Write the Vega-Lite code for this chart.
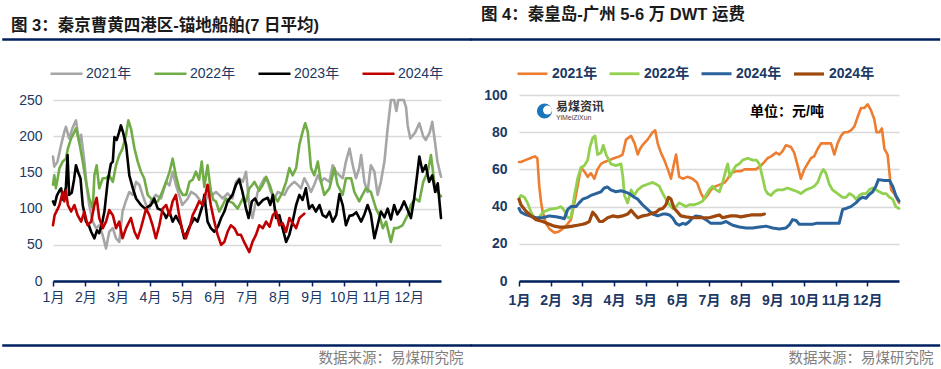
{
  "$schema": "https://vega.github.io/schema/vega-lite/v6.json",
  "background": "white",
  "padding": {"left": 0, "top": 7, "right": 0, "bottom": 0},
  "autosize": {"type": "pad"},
  "bounds": "flush",
  "spacing": 78,
  "config": {
    "view": {"stroke": null},
    "font": "Liberation Sans, Noto Sans CJK SC",
    "axisX": {"grid": false, "domainColor": "#002060", "domainWidth": 2.5, "tickColor": "#002060", "tickSize": 5, "tickWidth": 1.5, "labelColor": "#203864", "labelFontSize": 14, "labelFont": "Liberation Sans, Noto Sans CJK SC", "labelOverlap": false, "labelFlush": false, "labelBound": false, "titleY": 77, "titleAlign": "right", "titleBaseline": "middle", "titleColor": "#7f7f7f", "titleFontWeight": "normal", "titleFontSize": 14.5, "titleFont": "Noto Sans CJK SC"},
    "axisY": {"domain": false, "ticks": false, "grid": true, "gridColor": "#d9d9d9", "gridWidth": 1.5, "labelColor": "#203864", "labelFontSize": 14, "labelFont": "Liberation Sans", "labelOverlap": false}
  },
  "resolve": {"scale": {"color": "independent", "strokeWidth": "independent"}, "legend": {"color": "independent"}},
  "datasets": {
    "left": [
      {"s":"2021年","m":0,"v":172},{"s":"2021年","m":0.04,"v":158},{"s":"2021年","m":0.14,"v":165},{"s":"2021年","m":0.25,"v":188},{"s":"2021年","m":0.35,"v":206},{"s":"2021年","m":0.4,"v":213},{"s":"2021年","m":0.5,"v":197},{"s":"2021年","m":0.6,"v":211},{"s":"2021年","m":0.71,"v":222},{"s":"2021年","m":0.81,"v":192},{"s":"2021年","m":0.87,"v":202},{"s":"2021年","m":0.97,"v":165},{"s":"2021年","m":1.05,"v":128},{"s":"2021年","m":1.12,"v":105},{"s":"2021年","m":1.23,"v":82},{"s":"2021年","m":1.33,"v":73},{"s":"2021年","m":1.43,"v":77},{"s":"2021年","m":1.53,"v":64},{"s":"2021年","m":1.64,"v":45},{"s":"2021年","m":1.74,"v":68},{"s":"2021年","m":1.85,"v":73},{"s":"2021年","m":1.95,"v":59},{"s":"2021年","m":2.05,"v":54},{"s":"2021年","m":2.15,"v":96},{"s":"2021年","m":2.25,"v":110},{"s":"2021年","m":2.36,"v":123},{"s":"2021年","m":2.47,"v":119},{"s":"2021年","m":2.57,"v":137},{"s":"2021年","m":2.67,"v":133},{"s":"2021年","m":2.77,"v":119},{"s":"2021年","m":2.88,"v":105},{"s":"2021年","m":2.98,"v":100},{"s":"2021年","m":3.03,"v":110},{"s":"2021年","m":3.18,"v":119},{"s":"2021年","m":3.34,"v":114},{"s":"2021年","m":3.5,"v":137},{"s":"2021年","m":3.6,"v":132},{"s":"2021年","m":3.7,"v":151},{"s":"2021年","m":3.8,"v":133},{"s":"2021年","m":3.9,"v":119},{"s":"2021年","m":4.0,"v":105},{"s":"2021年","m":4.17,"v":114},{"s":"2021年","m":4.27,"v":123},{"s":"2021年","m":4.42,"v":119},{"s":"2021年","m":4.57,"v":110},{"s":"2021年","m":4.68,"v":105},{"s":"2021年","m":4.78,"v":119},{"s":"2021年","m":4.93,"v":119},{"s":"2021年","m":5.04,"v":123},{"s":"2021年","m":5.14,"v":119},{"s":"2021年","m":5.25,"v":114},{"s":"2021年","m":5.4,"v":121},{"s":"2021年","m":5.55,"v":114},{"s":"2021年","m":5.66,"v":137},{"s":"2021年","m":5.76,"v":142},{"s":"2021年","m":5.87,"v":137},{"s":"2021年","m":5.97,"v":151},{"s":"2021年","m":6.07,"v":105},{"s":"2021年","m":6.17,"v":87},{"s":"2021年","m":6.33,"v":123},{"s":"2021年","m":6.43,"v":133},{"s":"2021年","m":6.54,"v":142},{"s":"2021年","m":6.64,"v":137},{"s":"2021年","m":6.74,"v":123},{"s":"2021年","m":6.85,"v":114},{"s":"2021年","m":6.95,"v":123},{"s":"2021年","m":7.05,"v":121},{"s":"2021年","m":7.16,"v":119},{"s":"2021年","m":7.26,"v":128},{"s":"2021年","m":7.36,"v":133},{"s":"2021年","m":7.46,"v":137},{"s":"2021年","m":7.57,"v":133},{"s":"2021年","m":7.67,"v":128},{"s":"2021年","m":7.77,"v":142},{"s":"2021年","m":7.88,"v":133},{"s":"2021年","m":7.98,"v":123},{"s":"2021年","m":8.08,"v":133},{"s":"2021年","m":8.19,"v":146},{"s":"2021年","m":8.29,"v":137},{"s":"2021年","m":8.39,"v":142},{"s":"2021年","m":8.55,"v":137},{"s":"2021年","m":8.65,"v":160},{"s":"2021年","m":8.75,"v":151},{"s":"2021年","m":8.86,"v":146},{"s":"2021年","m":8.96,"v":142},{"s":"2021年","m":9.06,"v":165},{"s":"2021年","m":9.17,"v":183},{"s":"2021年","m":9.27,"v":160},{"s":"2021年","m":9.37,"v":142},{"s":"2021年","m":9.47,"v":156},{"s":"2021年","m":9.53,"v":174},{"s":"2021年","m":9.63,"v":137},{"s":"2021年","m":9.73,"v":123},{"s":"2021年","m":9.83,"v":160},{"s":"2021年","m":9.94,"v":151},{"s":"2021年","m":10.04,"v":119},{"s":"2021年","m":10.14,"v":137},{"s":"2021年","m":10.25,"v":165},{"s":"2021年","m":10.35,"v":211},{"s":"2021年","m":10.45,"v":250},{"s":"2021年","m":10.55,"v":250},{"s":"2021年","m":10.62,"v":235},{"s":"2021年","m":10.68,"v":250},{"s":"2021年","m":10.85,"v":250},{"s":"2021年","m":10.92,"v":240},{"s":"2021年","m":10.97,"v":215},{"s":"2021年","m":11.05,"v":197},{"s":"2021年","m":11.2,"v":205},{"s":"2021年","m":11.33,"v":218},{"s":"2021年","m":11.45,"v":200},{"s":"2021年","m":11.53,"v":195},{"s":"2021年","m":11.65,"v":205},{"s":"2021年","m":11.73,"v":220},{"s":"2021年","m":11.82,"v":190},{"s":"2021年","m":11.89,"v":165},{"s":"2021年","m":12,"v":144},

      {"s":"2022年","m":0,"v":133},{"s":"2022年","m":0.04,"v":146},{"s":"2022年","m":0.09,"v":128},{"s":"2022年","m":0.2,"v":156},{"s":"2022年","m":0.3,"v":165},{"s":"2022年","m":0.4,"v":169},{"s":"2022年","m":0.46,"v":183},{"s":"2022年","m":0.56,"v":197},{"s":"2022年","m":0.66,"v":206},{"s":"2022年","m":0.71,"v":211},{"s":"2022年","m":0.81,"v":192},{"s":"2022年","m":0.92,"v":165},{"s":"2022年","m":1.02,"v":137},{"s":"2022年","m":1.12,"v":114},{"s":"2022年","m":1.23,"v":100},{"s":"2022年","m":1.28,"v":146},{"s":"2022年","m":1.35,"v":160},{"s":"2022年","m":1.43,"v":128},{"s":"2022年","m":1.54,"v":142},{"s":"2022年","m":1.64,"v":142},{"s":"2022年","m":1.74,"v":146},{"s":"2022年","m":1.85,"v":137},{"s":"2022年","m":1.95,"v":160},{"s":"2022年","m":2.05,"v":174},{"s":"2022年","m":2.15,"v":183},{"s":"2022年","m":2.26,"v":202},{"s":"2022年","m":2.33,"v":222},{"s":"2022年","m":2.41,"v":211},{"s":"2022年","m":2.52,"v":183},{"s":"2022年","m":2.62,"v":165},{"s":"2022年","m":2.72,"v":151},{"s":"2022年","m":2.82,"v":142},{"s":"2022年","m":2.93,"v":119},{"s":"2022年","m":3.03,"v":114},{"s":"2022年","m":3.13,"v":108},{"s":"2022年","m":3.24,"v":110},{"s":"2022年","m":3.34,"v":119},{"s":"2022年","m":3.5,"v":137},{"s":"2022年","m":3.6,"v":150},{"s":"2022年","m":3.7,"v":169},{"s":"2022年","m":3.8,"v":146},{"s":"2022年","m":3.9,"v":128},{"s":"2022年","m":4.01,"v":119},{"s":"2022年","m":4.12,"v":119},{"s":"2022年","m":4.22,"v":137},{"s":"2022年","m":4.32,"v":140},{"s":"2022年","m":4.42,"v":151},{"s":"2022年","m":4.52,"v":140},{"s":"2022年","m":4.6,"v":165},{"s":"2022年","m":4.68,"v":130},{"s":"2022年","m":4.78,"v":160},{"s":"2022年","m":4.88,"v":125},{"s":"2022年","m":4.96,"v":112},{"s":"2022年","m":5.04,"v":110},{"s":"2022年","m":5.14,"v":96},{"s":"2022年","m":5.25,"v":105},{"s":"2022年","m":5.35,"v":114},{"s":"2022年","m":5.45,"v":110},{"s":"2022年","m":5.56,"v":108},{"s":"2022年","m":5.71,"v":100},{"s":"2022年","m":5.87,"v":114},{"s":"2022年","m":5.97,"v":110},{"s":"2022年","m":6.07,"v":128},{"s":"2022年","m":6.17,"v":133},{"s":"2022年","m":6.23,"v":137},{"s":"2022年","m":6.38,"v":125},{"s":"2022年","m":6.49,"v":133},{"s":"2022年","m":6.59,"v":144},{"s":"2022年","m":6.7,"v":133},{"s":"2022年","m":6.8,"v":119},{"s":"2022年","m":6.95,"v":110},{"s":"2022年","m":7.1,"v":123},{"s":"2022年","m":7.21,"v":137},{"s":"2022年","m":7.31,"v":156},{"s":"2022年","m":7.41,"v":146},{"s":"2022年","m":7.52,"v":156},{"s":"2022年","m":7.62,"v":188},{"s":"2022年","m":7.72,"v":206},{"s":"2022年","m":7.8,"v":218},{"s":"2022年","m":7.88,"v":206},{"s":"2022年","m":7.98,"v":156},{"s":"2022年","m":8.08,"v":146},{"s":"2022年","m":8.19,"v":165},{"s":"2022年","m":8.29,"v":137},{"s":"2022年","m":8.39,"v":119},{"s":"2022年","m":8.55,"v":128},{"s":"2022年","m":8.7,"v":156},{"s":"2022年","m":8.8,"v":133},{"s":"2022年","m":8.96,"v":119},{"s":"2022年","m":9.06,"v":142},{"s":"2022年","m":9.22,"v":142},{"s":"2022年","m":9.32,"v":123},{"s":"2022年","m":9.47,"v":110},{"s":"2022年","m":9.57,"v":119},{"s":"2022年","m":9.68,"v":128},{"s":"2022年","m":9.83,"v":123},{"s":"2022年","m":9.99,"v":100},{"s":"2022年","m":10.09,"v":91},{"s":"2022年","m":10.2,"v":73},{"s":"2022年","m":10.3,"v":82},{"s":"2022年","m":10.45,"v":54},{"s":"2022年","m":10.55,"v":73},{"s":"2022年","m":10.65,"v":73},{"s":"2022年","m":10.81,"v":77},{"s":"2022年","m":10.97,"v":91},{"s":"2022年","m":11.07,"v":105},{"s":"2022年","m":11.2,"v":114},{"s":"2022年","m":11.33,"v":110},{"s":"2022年","m":11.45,"v":137},{"s":"2022年","m":11.59,"v":151},{"s":"2022年","m":11.69,"v":174},{"s":"2022年","m":11.79,"v":137},{"s":"2022年","m":11.89,"v":123},{"s":"2022年","m":12,"v":117},

      {"s":"2023年","m":0,"v":110},{"s":"2023年","m":0.05,"v":105},{"s":"2023年","m":0.12,"v":118},{"s":"2023年","m":0.2,"v":125},{"s":"2023年","m":0.25,"v":128},{"s":"2023年","m":0.32,"v":112},{"s":"2023年","m":0.4,"v":130},{"s":"2023年","m":0.45,"v":174},{"s":"2023年","m":0.5,"v":119},{"s":"2023年","m":0.58,"v":122},{"s":"2023年","m":0.65,"v":140},{"s":"2023年","m":0.71,"v":160},{"s":"2023年","m":0.78,"v":150},{"s":"2023年","m":0.85,"v":142},{"s":"2023年","m":0.92,"v":105},{"s":"2023年","m":1.02,"v":82},{"s":"2023年","m":1.1,"v":78},{"s":"2023年","m":1.18,"v":68},{"s":"2023年","m":1.28,"v":59},{"s":"2023年","m":1.36,"v":70},{"s":"2023年","m":1.43,"v":66},{"s":"2023年","m":1.52,"v":80},{"s":"2023年","m":1.59,"v":96},{"s":"2023年","m":1.69,"v":137},{"s":"2023年","m":1.79,"v":162},{"s":"2023年","m":1.85,"v":165},{"s":"2023年","m":1.9,"v":199},{"s":"2023年","m":1.97,"v":195},{"s":"2023年","m":2.04,"v":205},{"s":"2023年","m":2.1,"v":215},{"s":"2023年","m":2.17,"v":205},{"s":"2023年","m":2.26,"v":188},{"s":"2023年","m":2.36,"v":146},{"s":"2023年","m":2.47,"v":128},{"s":"2023年","m":2.57,"v":114},{"s":"2023年","m":2.72,"v":105},{"s":"2023年","m":2.85,"v":100},{"s":"2023年","m":2.95,"v":103},{"s":"2023年","m":3.03,"v":105},{"s":"2023年","m":3.13,"v":114},{"s":"2023年","m":3.24,"v":100},{"s":"2023年","m":3.35,"v":98},{"s":"2023年","m":3.45,"v":92},{"s":"2023年","m":3.5,"v":87},{"s":"2023年","m":3.6,"v":96},{"s":"2023年","m":3.7,"v":82},{"s":"2023年","m":3.8,"v":90},{"s":"2023年","m":3.96,"v":77},{"s":"2023年","m":4.06,"v":59},{"s":"2023年","m":4.2,"v":73},{"s":"2023年","m":4.37,"v":87},{"s":"2023年","m":4.47,"v":82},{"s":"2023年","m":4.63,"v":105},{"s":"2023年","m":4.68,"v":119},{"s":"2023年","m":4.78,"v":82},{"s":"2023年","m":4.88,"v":73},{"s":"2023年","m":4.99,"v":68},{"s":"2023年","m":5.1,"v":75},{"s":"2023年","m":5.2,"v":87},{"s":"2023年","m":5.3,"v":96},{"s":"2023年","m":5.4,"v":110},{"s":"2023年","m":5.55,"v":119},{"s":"2023年","m":5.66,"v":133},{"s":"2023年","m":5.76,"v":140},{"s":"2023年","m":5.86,"v":123},{"s":"2023年","m":5.97,"v":100},{"s":"2023年","m":6.05,"v":87},{"s":"2023年","m":6.15,"v":110},{"s":"2023年","m":6.25,"v":114},{"s":"2023年","m":6.35,"v":105},{"s":"2023年","m":6.5,"v":112},{"s":"2023年","m":6.64,"v":115},{"s":"2023年","m":6.72,"v":105},{"s":"2023年","m":6.8,"v":119},{"s":"2023年","m":6.9,"v":87},{"s":"2023年","m":7.0,"v":91},{"s":"2023年","m":7.1,"v":73},{"s":"2023年","m":7.21,"v":54},{"s":"2023年","m":7.31,"v":64},{"s":"2023年","m":7.41,"v":82},{"s":"2023年","m":7.52,"v":105},{"s":"2023年","m":7.62,"v":119},{"s":"2023年","m":7.72,"v":112},{"s":"2023年","m":7.82,"v":128},{"s":"2023年","m":7.92,"v":100},{"s":"2023年","m":8.02,"v":105},{"s":"2023年","m":8.13,"v":96},{"s":"2023年","m":8.24,"v":105},{"s":"2023年","m":8.34,"v":91},{"s":"2023年","m":8.45,"v":88},{"s":"2023年","m":8.55,"v":96},{"s":"2023年","m":8.65,"v":82},{"s":"2023年","m":8.76,"v":91},{"s":"2023年","m":8.86,"v":120},{"s":"2023年","m":8.96,"v":105},{"s":"2023年","m":9.06,"v":77},{"s":"2023年","m":9.17,"v":90},{"s":"2023年","m":9.27,"v":91},{"s":"2023年","m":9.38,"v":95},{"s":"2023年","m":9.53,"v":82},{"s":"2023年","m":9.63,"v":92},{"s":"2023年","m":9.73,"v":105},{"s":"2023年","m":9.83,"v":92},{"s":"2023年","m":9.94,"v":59},{"s":"2023年","m":10.04,"v":77},{"s":"2023年","m":10.14,"v":96},{"s":"2023年","m":10.25,"v":88},{"s":"2023年","m":10.35,"v":100},{"s":"2023年","m":10.45,"v":85},{"s":"2023年","m":10.55,"v":105},{"s":"2023年","m":10.65,"v":92},{"s":"2023年","m":10.76,"v":100},{"s":"2023年","m":10.86,"v":110},{"s":"2023年","m":10.97,"v":98},{"s":"2023年","m":11.07,"v":87},{"s":"2023年","m":11.17,"v":114},{"s":"2023年","m":11.25,"v":142},{"s":"2023年","m":11.33,"v":172},{"s":"2023年","m":11.43,"v":151},{"s":"2023年","m":11.53,"v":160},{"s":"2023年","m":11.63,"v":137},{"s":"2023年","m":11.73,"v":146},{"s":"2023年","m":11.82,"v":123},{"s":"2023年","m":11.9,"v":135},{"s":"2023年","m":12,"v":87},

      {"s":"2024年","m":0,"v":77},{"s":"2024年","m":0.05,"v":91},{"s":"2024年","m":0.15,"v":100},{"s":"2024年","m":0.2,"v":105},{"s":"2024年","m":0.3,"v":123},{"s":"2024年","m":0.35,"v":110},{"s":"2024年","m":0.4,"v":125},{"s":"2024年","m":0.46,"v":105},{"s":"2024年","m":0.56,"v":96},{"s":"2024年","m":0.66,"v":105},{"s":"2024年","m":0.76,"v":91},{"s":"2024年","m":0.87,"v":82},{"s":"2024年","m":0.97,"v":96},{"s":"2024年","m":1.07,"v":77},{"s":"2024年","m":1.18,"v":82},{"s":"2024年","m":1.28,"v":105},{"s":"2024年","m":1.35,"v":115},{"s":"2024年","m":1.43,"v":87},{"s":"2024年","m":1.54,"v":73},{"s":"2024年","m":1.64,"v":82},{"s":"2024年","m":1.74,"v":98},{"s":"2024年","m":1.85,"v":91},{"s":"2024年","m":1.95,"v":73},{"s":"2024年","m":2.05,"v":82},{"s":"2024年","m":2.15,"v":59},{"s":"2024年","m":2.26,"v":73},{"s":"2024年","m":2.41,"v":87},{"s":"2024年","m":2.52,"v":68},{"s":"2024年","m":2.62,"v":59},{"s":"2024年","m":2.72,"v":73},{"s":"2024年","m":2.88,"v":100},{"s":"2024年","m":2.98,"v":91},{"s":"2024年","m":3.08,"v":77},{"s":"2024年","m":3.18,"v":59},{"s":"2024年","m":3.29,"v":77},{"s":"2024年","m":3.39,"v":100},{"s":"2024年","m":3.5,"v":105},{"s":"2024年","m":3.6,"v":91},{"s":"2024年","m":3.7,"v":110},{"s":"2024年","m":3.8,"v":119},{"s":"2024年","m":3.9,"v":91},{"s":"2024年","m":4.01,"v":68},{"s":"2024年","m":4.11,"v":59},{"s":"2024年","m":4.22,"v":73},{"s":"2024年","m":4.32,"v":91},{"s":"2024年","m":4.42,"v":100},{"s":"2024年","m":4.52,"v":110},{"s":"2024年","m":4.63,"v":105},{"s":"2024年","m":4.73,"v":123},{"s":"2024年","m":4.78,"v":133},{"s":"2024年","m":4.88,"v":105},{"s":"2024年","m":4.99,"v":82},{"s":"2024年","m":5.09,"v":64},{"s":"2024年","m":5.2,"v":50},{"s":"2024年","m":5.3,"v":54},{"s":"2024年","m":5.4,"v":68},{"s":"2024年","m":5.5,"v":77},{"s":"2024年","m":5.61,"v":73},{"s":"2024年","m":5.71,"v":64},{"s":"2024年","m":5.81,"v":64},{"s":"2024年","m":5.91,"v":54},{"s":"2024年","m":6.07,"v":40},{"s":"2024年","m":6.17,"v":54},{"s":"2024年","m":6.28,"v":64},{"s":"2024年","m":6.38,"v":77},{"s":"2024年","m":6.49,"v":73},{"s":"2024年","m":6.59,"v":82},{"s":"2024年","m":6.7,"v":75},{"s":"2024年","m":6.8,"v":91},{"s":"2024年","m":6.9,"v":96},{"s":"2024年","m":7.0,"v":77},{"s":"2024年","m":7.1,"v":80},{"s":"2024年","m":7.21,"v":68},{"s":"2024年","m":7.31,"v":87},{"s":"2024年","m":7.41,"v":80},{"s":"2024年","m":7.52,"v":73},{"s":"2024年","m":7.62,"v":87},{"s":"2024年","m":7.72,"v":91},{"s":"2024年","m":7.77,"v":93}
    ],
    "right": [
      {"s":"2021年","m":0,"v":64},{"s":"2021年","m":0.06,"v":64},{"s":"2021年","m":0.2,"v":65},{"s":"2021年","m":0.35,"v":66},{"s":"2021年","m":0.5,"v":67},{"s":"2021年","m":0.58,"v":66},{"s":"2021年","m":0.64,"v":51},{"s":"2021年","m":0.7,"v":42},{"s":"2021年","m":0.75,"v":37},{"s":"2021年","m":0.85,"v":31},{"s":"2021年","m":0.96,"v":28},{"s":"2021年","m":1.12,"v":26},{"s":"2021年","m":1.25,"v":26.5},{"s":"2021年","m":1.38,"v":28},{"s":"2021年","m":1.5,"v":30},{"s":"2021年","m":1.64,"v":33},{"s":"2021年","m":1.75,"v":42},{"s":"2021年","m":1.85,"v":51},{"s":"2021年","m":1.96,"v":61},{"s":"2021年","m":2.06,"v":59},{"s":"2021年","m":2.17,"v":56},{"s":"2021年","m":2.27,"v":58},{"s":"2021年","m":2.38,"v":55},{"s":"2021年","m":2.48,"v":60},{"s":"2021年","m":2.59,"v":63},{"s":"2021年","m":2.7,"v":64},{"s":"2021年","m":2.85,"v":65},{"s":"2021年","m":3.0,"v":66},{"s":"2021年","m":3.17,"v":67},{"s":"2021年","m":3.27,"v":68},{"s":"2021年","m":3.38,"v":76},{"s":"2021年","m":3.54,"v":78},{"s":"2021年","m":3.65,"v":74},{"s":"2021年","m":3.75,"v":68},{"s":"2021年","m":3.82,"v":71},{"s":"2021年","m":3.9,"v":73},{"s":"2021年","m":4.06,"v":76},{"s":"2021年","m":4.22,"v":80},{"s":"2021年","m":4.3,"v":81},{"s":"2021年","m":4.38,"v":74},{"s":"2021年","m":4.48,"v":69},{"s":"2021年","m":4.59,"v":65},{"s":"2021年","m":4.7,"v":60},{"s":"2021年","m":4.8,"v":55},{"s":"2021年","m":4.88,"v":62},{"s":"2021年","m":4.96,"v":68},{"s":"2021年","m":5.06,"v":56},{"s":"2021年","m":5.17,"v":55},{"s":"2021年","m":5.32,"v":56},{"s":"2021年","m":5.48,"v":55},{"s":"2021年","m":5.62,"v":53},{"s":"2021年","m":5.75,"v":47},{"s":"2021年","m":5.85,"v":44},{"s":"2021年","m":5.95,"v":46},{"s":"2021年","m":6.06,"v":49},{"s":"2021年","m":6.22,"v":51},{"s":"2021年","m":6.38,"v":52},{"s":"2021年","m":6.5,"v":53},{"s":"2021年","m":6.59,"v":55},{"s":"2021年","m":6.7,"v":58},{"s":"2021年","m":6.85,"v":59},{"s":"2021年","m":7.0,"v":59},{"s":"2021年","m":7.12,"v":60},{"s":"2021年","m":7.3,"v":60},{"s":"2021年","m":7.48,"v":60},{"s":"2021年","m":7.64,"v":62},{"s":"2021年","m":7.75,"v":64},{"s":"2021年","m":7.85,"v":66},{"s":"2021年","m":7.96,"v":67},{"s":"2021年","m":8.12,"v":69},{"s":"2021年","m":8.22,"v":68},{"s":"2021年","m":8.33,"v":70},{"s":"2021年","m":8.43,"v":73},{"s":"2021年","m":8.59,"v":72},{"s":"2021年","m":8.69,"v":69},{"s":"2021年","m":8.8,"v":62},{"s":"2021年","m":8.9,"v":55},{"s":"2021年","m":9.01,"v":60},{"s":"2021年","m":9.11,"v":63},{"s":"2021年","m":9.22,"v":66},{"s":"2021年","m":9.32,"v":67},{"s":"2021年","m":9.43,"v":71},{"s":"2021年","m":9.54,"v":74},{"s":"2021年","m":9.69,"v":74},{"s":"2021年","m":9.85,"v":74},{"s":"2021年","m":9.96,"v":68},{"s":"2021年","m":10.06,"v":74},{"s":"2021年","m":10.17,"v":78},{"s":"2021年","m":10.27,"v":80},{"s":"2021年","m":10.38,"v":80},{"s":"2021年","m":10.48,"v":81},{"s":"2021年","m":10.59,"v":83},{"s":"2021年","m":10.69,"v":88},{"s":"2021年","m":10.8,"v":93},{"s":"2021年","m":10.9,"v":93},{"s":"2021年","m":11.01,"v":95},{"s":"2021年","m":11.11,"v":92},{"s":"2021年","m":11.22,"v":87},{"s":"2021年","m":11.29,"v":80},{"s":"2021年","m":11.38,"v":80},{"s":"2021年","m":11.46,"v":82},{"s":"2021年","m":11.54,"v":71},{"s":"2021年","m":11.64,"v":68},{"s":"2021年","m":11.7,"v":58},{"s":"2021年","m":11.75,"v":49},{"s":"2021年","m":11.85,"v":47},{"s":"2021年","m":12,"v":42},

      {"s":"2022年","m":0,"v":44},{"s":"2022年","m":0.06,"v":46},{"s":"2022年","m":0.17,"v":45},{"s":"2022年","m":0.27,"v":42},{"s":"2022年","m":0.38,"v":37},{"s":"2022年","m":0.48,"v":34},{"s":"2022年","m":0.6,"v":33},{"s":"2022年","m":0.75,"v":37},{"s":"2022年","m":0.96,"v":38.5},{"s":"2022年","m":1.17,"v":39},{"s":"2022年","m":1.33,"v":40},{"s":"2022年","m":1.43,"v":38},{"s":"2022年","m":1.54,"v":34},{"s":"2022年","m":1.64,"v":34},{"s":"2022年","m":1.75,"v":46},{"s":"2022年","m":1.85,"v":55},{"s":"2022年","m":1.96,"v":61},{"s":"2022年","m":2.06,"v":62},{"s":"2022年","m":2.17,"v":65},{"s":"2022年","m":2.24,"v":72},{"s":"2022年","m":2.33,"v":77},{"s":"2022年","m":2.4,"v":78},{"s":"2022年","m":2.48,"v":68},{"s":"2022年","m":2.59,"v":69},{"s":"2022年","m":2.66,"v":73},{"s":"2022年","m":2.75,"v":68},{"s":"2022年","m":2.9,"v":63},{"s":"2022年","m":3.06,"v":62},{"s":"2022年","m":3.22,"v":63},{"s":"2022年","m":3.28,"v":56},{"s":"2022年","m":3.33,"v":46},{"s":"2022年","m":3.43,"v":42},{"s":"2022年","m":3.54,"v":49},{"s":"2022年","m":3.64,"v":46},{"s":"2022年","m":3.75,"v":49},{"s":"2022年","m":3.9,"v":51},{"s":"2022年","m":4.06,"v":52},{"s":"2022年","m":4.22,"v":53},{"s":"2022年","m":4.33,"v":52},{"s":"2022年","m":4.43,"v":51},{"s":"2022年","m":4.54,"v":47},{"s":"2022年","m":4.64,"v":44},{"s":"2022年","m":4.75,"v":41},{"s":"2022年","m":4.85,"v":39},{"s":"2022年","m":4.96,"v":40},{"s":"2022年","m":5.06,"v":42},{"s":"2022年","m":5.17,"v":41},{"s":"2022年","m":5.27,"v":40},{"s":"2022年","m":5.38,"v":41},{"s":"2022年","m":5.54,"v":41},{"s":"2022年","m":5.7,"v":42},{"s":"2022年","m":5.8,"v":43},{"s":"2022年","m":5.9,"v":46},{"s":"2022年","m":6.0,"v":49},{"s":"2022年","m":6.11,"v":51},{"s":"2022年","m":6.22,"v":49},{"s":"2022年","m":6.33,"v":48},{"s":"2022年","m":6.43,"v":53},{"s":"2022年","m":6.54,"v":60},{"s":"2022年","m":6.59,"v":63},{"s":"2022年","m":6.66,"v":56},{"s":"2022年","m":6.75,"v":59},{"s":"2022年","m":6.85,"v":62},{"s":"2022年","m":6.96,"v":63},{"s":"2022年","m":7.06,"v":65},{"s":"2022年","m":7.22,"v":66},{"s":"2022年","m":7.38,"v":65},{"s":"2022年","m":7.5,"v":65},{"s":"2022年","m":7.59,"v":63},{"s":"2022年","m":7.7,"v":55},{"s":"2022年","m":7.78,"v":49},{"s":"2022年","m":7.85,"v":47},{"s":"2022年","m":7.96,"v":46},{"s":"2022年","m":8.06,"v":48},{"s":"2022年","m":8.17,"v":49},{"s":"2022年","m":8.33,"v":49},{"s":"2022年","m":8.48,"v":50},{"s":"2022年","m":8.64,"v":49},{"s":"2022年","m":8.8,"v":48},{"s":"2022年","m":8.9,"v":47},{"s":"2022年","m":9.06,"v":49},{"s":"2022年","m":9.22,"v":50},{"s":"2022年","m":9.33,"v":51},{"s":"2022年","m":9.43,"v":53},{"s":"2022年","m":9.54,"v":58},{"s":"2022年","m":9.61,"v":60},{"s":"2022年","m":9.69,"v":58},{"s":"2022年","m":9.8,"v":52},{"s":"2022年","m":9.9,"v":49},{"s":"2022年","m":10.06,"v":47},{"s":"2022年","m":10.22,"v":45},{"s":"2022年","m":10.33,"v":45},{"s":"2022年","m":10.43,"v":47},{"s":"2022年","m":10.54,"v":46},{"s":"2022年","m":10.64,"v":44},{"s":"2022年","m":10.75,"v":46},{"s":"2022年","m":10.85,"v":47},{"s":"2022年","m":10.96,"v":47},{"s":"2022年","m":11.06,"v":49},{"s":"2022年","m":11.17,"v":50},{"s":"2022年","m":11.27,"v":49},{"s":"2022年","m":11.38,"v":48},{"s":"2022年","m":11.48,"v":47},{"s":"2022年","m":11.59,"v":47},{"s":"2022年","m":11.7,"v":45},{"s":"2022年","m":11.8,"v":44},{"s":"2022年","m":11.9,"v":40},{"s":"2022年","m":12,"v":39},

      {"s":"2023年","m":0,"v":39},{"s":"2023年","m":0.06,"v":37},{"s":"2023年","m":0.17,"v":36},{"s":"2023年","m":0.33,"v":35},{"s":"2023年","m":0.54,"v":34},{"s":"2023年","m":0.75,"v":34},{"s":"2023年","m":0.96,"v":35},{"s":"2023年","m":1.17,"v":34.5},{"s":"2023年","m":1.33,"v":34},{"s":"2023年","m":1.43,"v":33.5},{"s":"2023年","m":1.54,"v":38.5},{"s":"2023年","m":1.64,"v":40},{"s":"2023年","m":1.8,"v":40},{"s":"2023年","m":1.9,"v":42},{"s":"2023年","m":2.01,"v":44},{"s":"2023年","m":2.17,"v":45},{"s":"2023年","m":2.27,"v":46},{"s":"2023年","m":2.43,"v":47},{"s":"2023年","m":2.59,"v":48},{"s":"2023年","m":2.69,"v":50},{"s":"2023年","m":2.8,"v":50.5},{"s":"2023年","m":2.9,"v":49},{"s":"2023年","m":3.06,"v":48},{"s":"2023年","m":3.22,"v":48.5},{"s":"2023年","m":3.33,"v":48},{"s":"2023年","m":3.48,"v":47},{"s":"2023年","m":3.64,"v":45},{"s":"2023年","m":3.75,"v":44},{"s":"2023年","m":3.9,"v":41},{"s":"2023年","m":4.06,"v":38.5},{"s":"2023年","m":4.22,"v":36},{"s":"2023年","m":4.38,"v":35},{"s":"2023年","m":4.54,"v":36},{"s":"2023年","m":4.64,"v":36},{"s":"2023年","m":4.75,"v":35.5},{"s":"2023年","m":4.85,"v":34},{"s":"2023年","m":4.96,"v":31},{"s":"2023年","m":5.06,"v":30},{"s":"2023年","m":5.17,"v":31},{"s":"2023年","m":5.27,"v":30.5},{"s":"2023年","m":5.38,"v":32},{"s":"2023年","m":5.48,"v":34},{"s":"2023年","m":5.59,"v":35},{"s":"2023年","m":5.75,"v":34.5},{"s":"2023年","m":5.9,"v":33},{"s":"2023年","m":6.06,"v":31},{"s":"2023年","m":6.22,"v":31},{"s":"2023年","m":6.38,"v":31},{"s":"2023年","m":6.54,"v":32},{"s":"2023年","m":6.64,"v":31},{"s":"2023年","m":6.75,"v":30},{"s":"2023年","m":6.96,"v":29},{"s":"2023年","m":7.17,"v":28.5},{"s":"2023年","m":7.38,"v":28.5},{"s":"2023年","m":7.59,"v":29},{"s":"2023年","m":7.8,"v":29.5},{"s":"2023年","m":8.01,"v":28.5},{"s":"2023年","m":8.22,"v":28},{"s":"2023年","m":8.43,"v":28.5},{"s":"2023年","m":8.53,"v":30},{"s":"2023年","m":8.64,"v":33},{"s":"2023年","m":8.75,"v":32.5},{"s":"2023年","m":8.85,"v":30.5},{"s":"2023年","m":9.06,"v":30.5},{"s":"2023年","m":9.27,"v":30.5},{"s":"2023年","m":9.38,"v":31},{"s":"2023年","m":9.54,"v":31},{"s":"2023年","m":9.69,"v":31},{"s":"2023年","m":9.9,"v":31},{"s":"2023年","m":10.11,"v":31},{"s":"2023年","m":10.22,"v":38.5},{"s":"2023年","m":10.33,"v":39},{"s":"2023年","m":10.48,"v":40},{"s":"2023年","m":10.64,"v":42},{"s":"2023年","m":10.75,"v":44},{"s":"2023年","m":10.85,"v":45},{"s":"2023年","m":10.96,"v":44.5},{"s":"2023年","m":11.06,"v":46.5},{"s":"2023年","m":11.17,"v":48},{"s":"2023年","m":11.27,"v":51},{"s":"2023年","m":11.35,"v":54.5},{"s":"2023年","m":11.54,"v":54},{"s":"2023年","m":11.7,"v":54},{"s":"2023年","m":11.8,"v":51},{"s":"2023年","m":11.9,"v":46},{"s":"2023年","m":12,"v":43},

      {"s":"2024年","m":0,"v":44},{"s":"2024年","m":0.06,"v":41},{"s":"2024年","m":0.22,"v":37.5},{"s":"2024年","m":0.38,"v":35},{"s":"2024年","m":0.54,"v":33},{"s":"2024年","m":0.75,"v":32},{"s":"2024年","m":0.96,"v":30.5},{"s":"2024年","m":1.12,"v":29.5},{"s":"2024年","m":1.28,"v":29},{"s":"2024年","m":1.48,"v":29},{"s":"2024年","m":1.69,"v":29.5},{"s":"2024年","m":1.85,"v":30},{"s":"2024年","m":2.01,"v":30.5},{"s":"2024年","m":2.11,"v":31},{"s":"2024年","m":2.22,"v":32},{"s":"2024年","m":2.33,"v":37},{"s":"2024年","m":2.43,"v":35},{"s":"2024年","m":2.54,"v":32},{"s":"2024年","m":2.64,"v":32},{"s":"2024年","m":2.8,"v":34},{"s":"2024年","m":2.96,"v":35},{"s":"2024年","m":3.12,"v":34.5},{"s":"2024年","m":3.27,"v":35},{"s":"2024年","m":3.43,"v":36},{"s":"2024年","m":3.54,"v":38},{"s":"2024年","m":3.64,"v":36},{"s":"2024年","m":3.75,"v":34},{"s":"2024年","m":3.9,"v":35},{"s":"2024年","m":4.06,"v":35.5},{"s":"2024年","m":4.22,"v":36.5},{"s":"2024年","m":4.33,"v":37},{"s":"2024年","m":4.43,"v":38.5},{"s":"2024年","m":4.54,"v":39},{"s":"2024年","m":4.64,"v":41},{"s":"2024年","m":4.72,"v":45},{"s":"2024年","m":4.8,"v":44},{"s":"2024年","m":4.9,"v":39},{"s":"2024年","m":5.01,"v":37},{"s":"2024年","m":5.11,"v":35},{"s":"2024年","m":5.27,"v":34.5},{"s":"2024年","m":5.48,"v":34},{"s":"2024年","m":5.7,"v":34},{"s":"2024年","m":5.85,"v":34},{"s":"2024年","m":6.01,"v":34},{"s":"2024年","m":6.22,"v":35},{"s":"2024年","m":6.33,"v":35.5},{"s":"2024年","m":6.43,"v":34},{"s":"2024年","m":6.54,"v":34.5},{"s":"2024年","m":6.69,"v":35},{"s":"2024年","m":6.85,"v":35},{"s":"2024年","m":7.01,"v":34.5},{"s":"2024年","m":7.17,"v":35},{"s":"2024年","m":7.33,"v":35.5},{"s":"2024年","m":7.48,"v":35.5},{"s":"2024年","m":7.64,"v":35.5},{"s":"2024年","m":7.75,"v":36}
    ]
  },
  "hconcat": [
    {
      "width": 388,
      "height": 186,
      "title": {"text": "图 3：秦京曹黄四港区-锚地船舶(7 日平均)", "anchor": "start", "frame": "group", "dx": -42, "offset": 3.5, "fontSize": 16.5, "fontWeight": "bold", "color": "#1a1a1a", "font": "Liberation Sans, Noto Sans CJK SC"},
      "layer": [
        {
          "data": {"name": "left"},
          "mark": {"type": "line", "strokeJoin": "round", "strokeCap": "round"},
          "encoding": {
            "x": {"field": "m", "type": "quantitative", "scale": {"domain": [0, 12], "nice": false, "zero": false},
              "axis": {"values": [0,1,2,3,4,5,6,7,8,9,10,11], "labelExpr": "(datum.value + 1) + '月'", "labelPadding": 4, "title": "数据来源：易煤研究院", "titleX": 410}},
            "y": {"field": "v", "type": "quantitative", "scale": {"domain": [0, 257], "nice": false},
              "axis": {"values": [0,50,100,150,200,250], "title": null, "labelPadding": 11}},
            "color": {"field": "s", "type": "nominal",
              "scale": {"domain": ["2021年","2022年","2023年","2024年"], "range": ["#a6a6a6","#70ad47","#000000","#c00000"]},
              "legend": {"title": null, "orient": "none", "legendX": -4, "legendY": -39, "direction": "horizontal", "symbolType": "stroke", "symbolSize": 1024, "symbolStrokeWidth": 3, "labelFontSize": 14, "labelColor": "#203864", "labelFont": "Liberation Sans, Noto Sans CJK SC", "labelOffset": 2, "columnPadding": 17, "padding": 0}},
            "strokeWidth": {"field": "s", "type": "nominal", "scale": {"domain": ["2021年","2022年","2023年","2024年"], "range": [2.6, 2.6, 2.6, 3.8]}, "legend": null}
          }
        },
        {
          "data": {"values": [{}]},
          "mark": {"type": "rule", "color": "#002060", "strokeWidth": 2.5, "strokeCap": "butt"},
          "encoding": {
            "x": {"datum": -1.57, "type": "quantitative", "axis": {"values": [0,1,2,3,4,5,6,7,8,9,10,11], "labelExpr": "(datum.value + 1) + '月'", "labelPadding": 4, "title": "数据来源：易煤研究院", "titleX": 410}},
            "x2": {"datum": 12.95},
            "y": {"datum": 333.7, "type": "quantitative", "axis": {"values": [0,50,100,150,200,250], "title": null, "labelPadding": 11}}
          }
        },
        {
          "data": {"values": [{}]},
          "mark": {"type": "rule", "color": "#002060", "strokeWidth": 2.5, "strokeCap": "butt"},
          "encoding": {
            "x": {"datum": -1.57, "type": "quantitative", "axis": {"values": [0,1,2,3,4,5,6,7,8,9,10,11], "labelExpr": "(datum.value + 1) + '月'", "labelPadding": 4, "title": "数据来源：易煤研究院", "titleX": 410}},
            "x2": {"datum": 12.95},
            "y": {"datum": -89.1, "type": "quantitative", "axis": {"values": [0,50,100,150,200,250], "title": null, "labelPadding": 11}}
          }
        }
      ]
    },
    {
      "width": 380,
      "height": 186,
      "title": {"text": "图 4：秦皇岛-广州 5-6 万 DWT 运费", "anchor": "start", "frame": "group", "dx": -38, "offset": 14.5, "fontSize": 16.5, "fontWeight": "bold", "color": "#1a1a1a", "font": "Liberation Sans, Noto Sans CJK SC"},
      "layer": [
        {
          "data": {"name": "right"},
          "mark": {"type": "line", "strokeJoin": "round", "strokeCap": "round"},
          "encoding": {
            "x": {"field": "m", "type": "quantitative", "scale": {"domain": [0, 12], "nice": false, "zero": false},
              "axis": {"values": [0,1,2,3,4,5,6,7,8,9,10,11], "labelExpr": "(datum.value + 1) + '月'", "labelPadding": 7, "labelFontWeight": "bold", "title": "数据来源：易煤研究院", "titleX": 414}},
            "y": {"field": "v", "type": "quantitative", "scale": {"domain": [0, 100], "nice": false},
              "axis": {"values": [0,20,40,60,80,100], "title": null, "labelPadding": 12, "labelFontWeight": "bold"}},
            "color": {"field": "s", "type": "nominal",
              "scale": {"domain": ["2021年","2022年","2023年","2024年"], "range": ["#ed7d31","#92d050","#2a639c","#9e480e"]},
              "legend": {"title": null, "orient": "none", "legendX": -3, "legendY": -38, "direction": "horizontal", "symbolType": "stroke", "symbolSize": 900, "symbolStrokeWidth": 3.5, "labelFontSize": 14, "labelFontWeight": "bold", "labelColor": "#203864", "labelFont": "Liberation Sans, Noto Sans CJK SC", "labelOffset": 3, "columnPadding": 5, "padding": 0, "labelExpr": "datum.label == '2023年' ? '2024年' : datum.label"}},
            "strokeWidth": {"field": "s", "type": "nominal", "scale": {"domain": ["2021年","2022年","2023年","2024年"], "range": [2.6, 3.2, 4.2, 4.2]}, "legend": null}
          }
        },
        {
          "data": {"values": [{}]},
          "mark": {"type": "rule", "color": "#002060", "strokeWidth": 2.5, "strokeCap": "butt"},
          "encoding": {
            "x": {"datum": -1.53, "type": "quantitative", "axis": {"values": [0,1,2,3,4,5,6,7,8,9,10,11], "labelExpr": "(datum.value + 1) + '月'", "labelPadding": 7, "labelFontWeight": "bold", "title": "数据来源：易煤研究院", "titleX": 414}},
            "x2": {"datum": 13.3},
            "y": {"datum": 129.84, "type": "quantitative", "axis": {"values": [0,20,40,60,80,100], "title": null, "labelPadding": 12, "labelFontWeight": "bold"}}
          }
        },
        {
          "data": {"values": [{}]},
          "mark": {"type": "rule", "color": "#002060", "strokeWidth": 2.5, "strokeCap": "butt"},
          "encoding": {
            "x": {"datum": -1.53, "type": "quantitative", "axis": {"values": [0,1,2,3,4,5,6,7,8,9,10,11], "labelExpr": "(datum.value + 1) + '月'", "labelPadding": 7, "labelFontWeight": "bold", "title": "数据来源：易煤研究院", "titleX": 414}},
            "x2": {"datum": 13.3},
            "y": {"datum": -34.68, "type": "quantitative", "axis": {"values": [0,20,40,60,80,100], "title": null, "labelPadding": 12, "labelFontWeight": "bold"}}
          }
        },
        {
          "data": {"values": [{}]},
          "mark": {"type": "circle", "color": "#1b75bc", "opacity": 1, "size": 230},
          "encoding": {
            "x": {"datum": 0.805, "type": "quantitative", "axis": {"values": [0,1,2,3,4,5,6,7,8,9,10,11], "labelExpr": "(datum.value + 1) + '月'", "labelPadding": 7, "labelFontWeight": "bold", "title": "数据来源：易煤研究院", "titleX": 414}},
            "y": {"datum": 91.4, "type": "quantitative", "axis": {"values": [0,20,40,60,80,100], "title": null, "labelPadding": 12, "labelFontWeight": "bold"}}
          }
        },
        {
          "data": {"values": [{}]},
          "mark": {"type": "circle", "color": "#ffffff", "opacity": 1, "size": 80},
          "encoding": {
            "x": {"datum": 0.9, "type": "quantitative", "axis": {"values": [0,1,2,3,4,5,6,7,8,9,10,11], "labelExpr": "(datum.value + 1) + '月'", "labelPadding": 7, "labelFontWeight": "bold", "title": "数据来源：易煤研究院", "titleX": 414}},
            "y": {"datum": 91.9, "type": "quantitative", "axis": {"values": [0,20,40,60,80,100], "title": null, "labelPadding": 12, "labelFontWeight": "bold"}}
          }
        },
        {
          "data": {"values": [{}]},
          "mark": {"type": "text", "text": "易煤资讯", "align": "left", "baseline": "middle", "fontSize": 12, "fontWeight": "bold", "color": "#333333", "font": "Noto Sans CJK SC"},
          "encoding": {
            "x": {"datum": 1.168, "type": "quantitative", "axis": {"values": [0,1,2,3,4,5,6,7,8,9,10,11], "labelExpr": "(datum.value + 1) + '月'", "labelPadding": 7, "labelFontWeight": "bold", "title": "数据来源：易煤研究院", "titleX": 414}},
            "y": {"datum": 93.4, "type": "quantitative", "axis": {"values": [0,20,40,60,80,100], "title": null, "labelPadding": 12, "labelFontWeight": "bold"}}
          }
        },
        {
          "data": {"values": [{}]},
          "mark": {"type": "text", "text": "YiMeiZiXun", "align": "left", "baseline": "middle", "fontSize": 7, "color": "#444444", "font": "Liberation Sans"},
          "encoding": {
            "x": {"datum": 1.168, "type": "quantitative", "axis": {"values": [0,1,2,3,4,5,6,7,8,9,10,11], "labelExpr": "(datum.value + 1) + '月'", "labelPadding": 7, "labelFontWeight": "bold", "title": "数据来源：易煤研究院", "titleX": 414}},
            "y": {"datum": 87.6, "type": "quantitative", "axis": {"values": [0,20,40,60,80,100], "title": null, "labelPadding": 12, "labelFontWeight": "bold"}}
          }
        },
        {
          "data": {"values": [{}]},
          "mark": {"type": "text", "text": "单位：元/吨", "align": "left", "baseline": "middle", "fontSize": 14, "fontWeight": "bold", "color": "#000000", "font": "Liberation Sans, Noto Sans CJK SC"},
          "encoding": {
            "x": {"datum": 7.295, "type": "quantitative", "axis": {"values": [0,1,2,3,4,5,6,7,8,9,10,11], "labelExpr": "(datum.value + 1) + '月'", "labelPadding": 7, "labelFontWeight": "bold", "title": "数据来源：易煤研究院", "titleX": 414}},
            "y": {"datum": 90.9, "type": "quantitative", "axis": {"values": [0,20,40,60,80,100], "title": null, "labelPadding": 12, "labelFontWeight": "bold"}}
          }
        }
      ]
    }
  ]
}
